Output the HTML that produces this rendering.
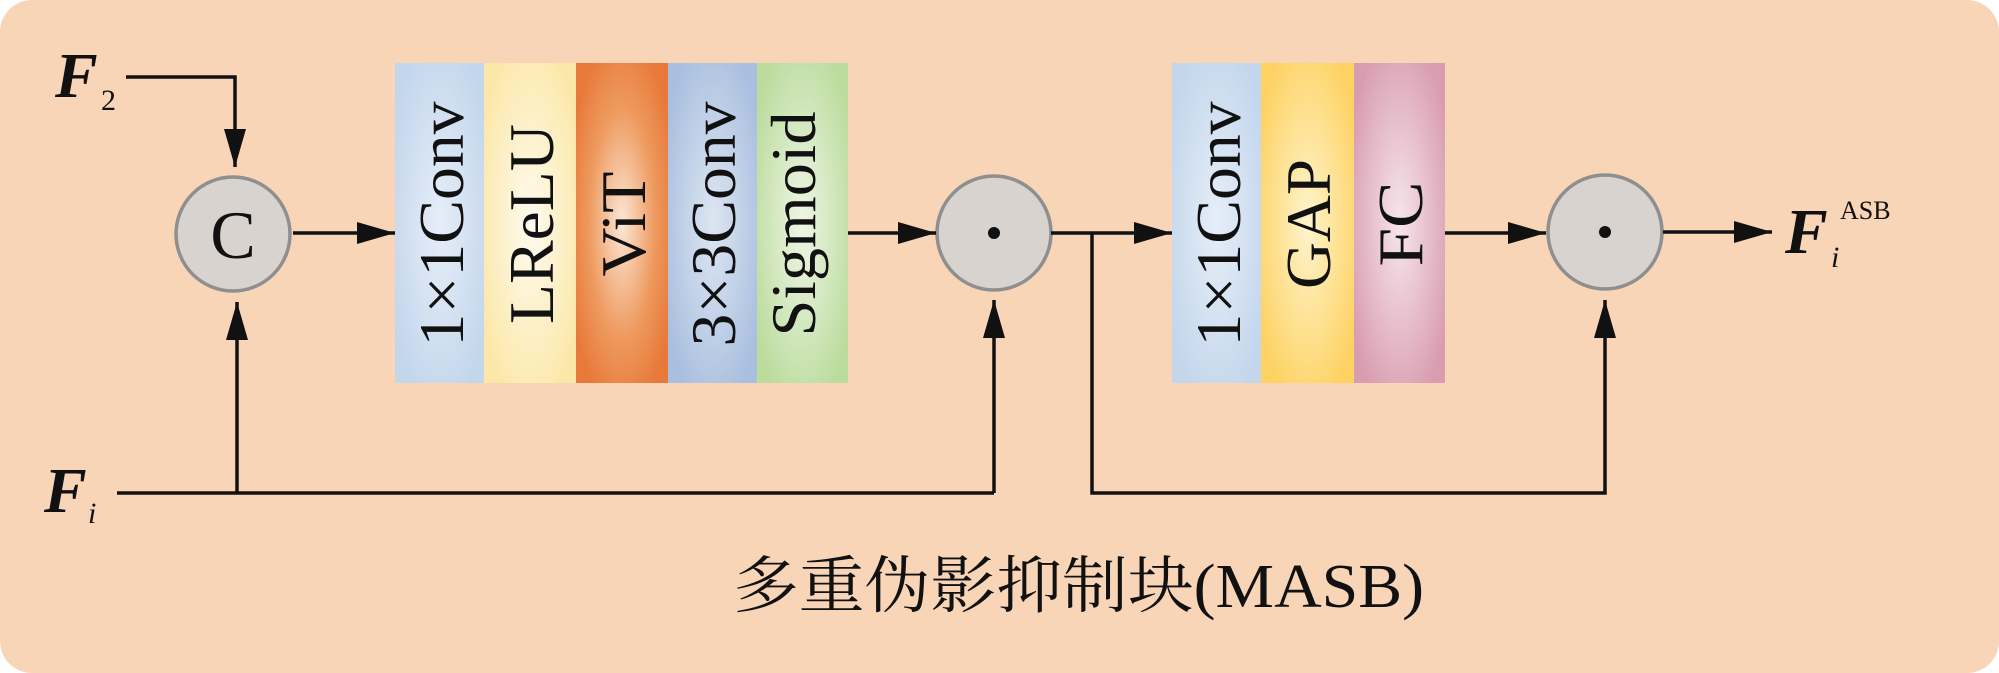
<!DOCTYPE html>
<html><head><meta charset="utf-8"><style>
html,body{margin:0;padding:0;background:#fff;}
svg{display:block;}
</style></head><body>
<svg width="1999" height="673" viewBox="0 0 1999 673" xmlns="http://www.w3.org/2000/svg">
<defs>
<radialGradient id="gb1" cx="50%" cy="50%" r="60%"><stop offset="0" stop-color="#e6eef8"/><stop offset="1" stop-color="#c3d6ec"/></radialGradient>
<radialGradient id="gy1" cx="50%" cy="50%" r="60%"><stop offset="0" stop-color="#fffaf0"/><stop offset="1" stop-color="#fbe8a8"/></radialGradient>
<radialGradient id="go" cx="50%" cy="50%" r="60%"><stop offset="0" stop-color="#fbe6d6"/><stop offset="0.6" stop-color="#ee9a5e"/><stop offset="1" stop-color="#e8793a"/></radialGradient>
<radialGradient id="gb2" cx="50%" cy="50%" r="60%"><stop offset="0" stop-color="#dde6f2"/><stop offset="1" stop-color="#a9bfdf"/></radialGradient>
<radialGradient id="gg" cx="50%" cy="50%" r="60%"><stop offset="0" stop-color="#eef6e6"/><stop offset="1" stop-color="#bcdc9e"/></radialGradient>
<radialGradient id="gy2" cx="50%" cy="50%" r="60%"><stop offset="0" stop-color="#fff4cc"/><stop offset="1" stop-color="#fdd263"/></radialGradient>
<radialGradient id="gp" cx="50%" cy="50%" r="60%"><stop offset="0" stop-color="#f6e6ec"/><stop offset="1" stop-color="#d99db2"/></radialGradient>
<marker id="ah" markerWidth="38" markerHeight="22" refX="38" refY="11" orient="auto" markerUnits="userSpaceOnUse"><path d="M0,0 L38,11 L0,22 Z" fill="#111"/></marker>
</defs>
<rect x="0" y="0" width="1999" height="673" rx="32" fill="#f9d5b8"/>
<g font-family="'Liberation Serif',serif" font-size="64" fill="#111">
<rect x="395" y="63" width="90" height="320" fill="url(#gb1)"/>
<rect x="484" y="63" width="93" height="320" fill="url(#gy1)"/>
<rect x="576" y="63" width="92" height="320" fill="url(#go)"/>
<rect x="668" y="63" width="90" height="320" fill="url(#gb2)"/>
<rect x="757" y="63" width="91" height="320" fill="url(#gg)"/>
<text transform="translate(463,224) rotate(-90)" text-anchor="middle" textLength="245" lengthAdjust="spacingAndGlyphs">1×1Conv</text>
<text transform="translate(553,224) rotate(-90)" text-anchor="middle" textLength="200" lengthAdjust="spacingAndGlyphs">LReLU</text>
<text transform="translate(645,224) rotate(-90)" text-anchor="middle" textLength="105" lengthAdjust="spacingAndGlyphs">ViT</text>
<text transform="translate(735,224) rotate(-90)" text-anchor="middle" textLength="245" lengthAdjust="spacingAndGlyphs">3×3Conv</text>
<text transform="translate(815,224) rotate(-90)" text-anchor="middle" textLength="225" lengthAdjust="spacingAndGlyphs">Sigmoid</text>

<rect x="1172" y="63" width="90" height="320" fill="url(#gb1)"/>
<rect x="1261" y="63" width="94" height="320" fill="url(#gy2)"/>
<rect x="1354" y="63" width="91" height="320" fill="url(#gp)"/>
<text transform="translate(1240,224) rotate(-90)" text-anchor="middle" textLength="245" lengthAdjust="spacingAndGlyphs">1×1Conv</text>
<text transform="translate(1330,224) rotate(-90)" text-anchor="middle" textLength="130" lengthAdjust="spacingAndGlyphs">GAP</text>
<text transform="translate(1422,224) rotate(-90)" text-anchor="middle" textLength="85" lengthAdjust="spacingAndGlyphs">FC</text>
</g>
<g fill="#d8d3cf" stroke="#8f8f8f" stroke-width="3.5">
<circle cx="233" cy="234" r="57"/>
<circle cx="994" cy="233" r="57"/>
<circle cx="1605" cy="232" r="57"/>
</g>
<text x="233" y="258" text-anchor="middle" font-family="'Liberation Serif',serif" font-size="68" fill="#111">C</text>
<circle cx="994" cy="233" r="6" fill="#111"/>
<circle cx="1605" cy="232" r="6" fill="#111"/>
<g stroke="#111" stroke-width="3.5" fill="none">
<polyline points="126,77 235,77 235,167" marker-end="url(#ah)"/>
<line x1="117" y1="493" x2="994" y2="493"/>
<line x1="237" y1="493" x2="237" y2="302" marker-end="url(#ah)"/>
<line x1="994" y1="493" x2="994" y2="300" marker-end="url(#ah)"/>
<line x1="293" y1="233" x2="395" y2="233" marker-end="url(#ah)"/>
<line x1="848" y1="233" x2="936" y2="233" marker-end="url(#ah)"/>
<line x1="1051" y1="233" x2="1172" y2="233" marker-end="url(#ah)"/>
<polyline points="1092,233 1092,493 1605,493 1605,300" marker-end="url(#ah)"/>
<line x1="1445" y1="233" x2="1546" y2="233" marker-end="url(#ah)"/>
<line x1="1663" y1="232" x2="1772" y2="232" marker-end="url(#ah)"/>
</g>
<g font-family="'Liberation Serif',serif" fill="#111">
<text x="55" y="97" font-size="64" font-weight="bold" font-style="italic">F</text>
<text x="101" y="110" font-size="30">2</text>
<text x="44" y="512" font-size="64" font-weight="bold" font-style="italic">F</text>
<text x="88" y="523" font-size="30" font-style="italic">i</text>
<text x="1785" y="253" font-size="64" font-weight="bold" font-style="italic">F</text>
<text x="1831" y="267" font-size="30" font-style="italic">i</text>
<text x="1840" y="219" font-size="26">ASB</text>
<text x="733" y="607" font-size="62" font-family="'Liberation Serif','Noto Serif CJK SC',serif" textLength="691" lengthAdjust="spacingAndGlyphs">多重伪影抑制块(MASB)</text>
</g>
</svg>
</body></html>
